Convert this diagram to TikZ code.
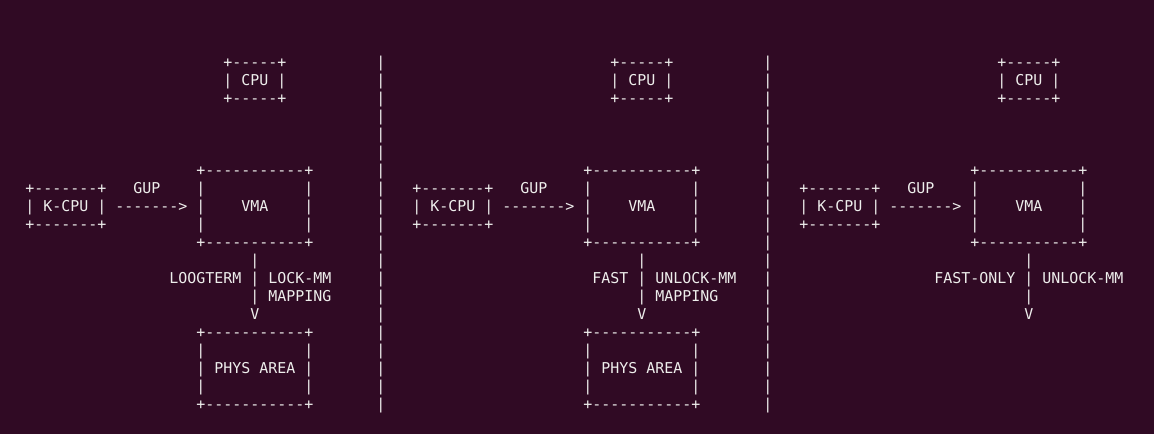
\documentclass[tikz,border=0pt]{standalone}
\usepackage{fontspec}
\newfontfamily\asciifont{DejaVu Sans Mono}
\definecolor{termbg}{HTML}{300A24}
\definecolor{termfg}{HTML}{EEEEEC}
\tikzset{asc/.style={anchor=base west,inner sep=0pt,outer sep=0pt,text=termfg,font=\asciifont\fontsize{14.95}{18}\selectfont}}
\newcommand\asc[4]{\node[asc] (#1) at ({25.3pt+(#2)*9.0pt},{-67.5pt-((#3)-1)*18pt}) {#4};}
\begin{document}
\begin{tikzpicture}
\fill[termbg] (0,0) rectangle (1154pt,-434pt);
\useasboundingbox (0,0) rectangle (1154pt,-434pt);
\foreach \p in {0,1,2}{
  \pgfmathsetmacro\o{43*\p}
  % CPU box
  \asc{cpua\p}{\o+22}{1}{+-----+}
  \asc{cpub\p}{\o+22}{2}{| CPU |}
  \asc{cpuc\p}{\o+22}{3}{+-----+}
  % VMA box
  \asc{vmaa\p}{\o+19}{7}{+-----------+}
  \asc{vmabl\p}{\o+19}{8}{|}
  \asc{vmabr\p}{\o+31}{8}{|}
  \asc{vmacl\p}{\o+19}{9}{|}
  \asc{vma\p}{\o+24}{9}{VMA}
  \asc{vmacr\p}{\o+31}{9}{|}
  \asc{vmadl\p}{\o+19}{10}{|}
  \asc{vmadr\p}{\o+31}{10}{|}
  \asc{vmae\p}{\o+19}{11}{+-----------+}
  % K-CPU box and GUP arrow
  \asc{kcpua\p}{\o}{8}{+-------+}
  \asc{kcpu\p}{\o}{9}{| K-CPU |}
  \asc{kcpuc\p}{\o}{10}{+-------+}
  \asc{gup\p}{\o+12}{8}{GUP}
  \asc{gupar\p}{\o+10}{9}{------->}
  % downward connector
  \asc{dna\p}{\o+25}{12}{|}
  \asc{dnb\p}{\o+25}{13}{|}
  \asc{dnc\p}{\o+25}{14}{|}
  \asc{dnv\p}{\o+25}{15}{V}
}
% labels of the downward connectors
\asc{lbla0}{16}{13}{LOOGTERM}
\asc{lblb0}{27}{13}{LOCK-MM}
\asc{lblc0}{27}{14}{MAPPING}
\asc{lbla1}{43+20}{13}{FAST}
\asc{lblb1}{43+27}{13}{UNLOCK-MM}
\asc{lblc1}{43+27}{14}{MAPPING}
\asc{lbla2}{86+15}{13}{FAST-ONLY}
\asc{lblb2}{86+27}{13}{UNLOCK-MM}
% PHYS AREA boxes and separators (first two panels)
\foreach \p in {0,1}{
  \pgfmathsetmacro\o{43*\p}
  \asc{physa\p}{\o+19}{16}{+-----------+}
  \asc{physbl\p}{\o+19}{17}{|}
  \asc{physbr\p}{\o+31}{17}{|}
  \asc{phys\p}{\o+19}{18}{| PHYS AREA |}
  \asc{physdl\p}{\o+19}{19}{|}
  \asc{physdr\p}{\o+31}{19}{|}
  \asc{physe\p}{\o+19}{20}{+-----------+}
  \foreach \r in {1,...,20}{
    \asc{sep\p-\r}{\o+39}{\r}{|}
  }
}
\end{tikzpicture}
\end{document}
